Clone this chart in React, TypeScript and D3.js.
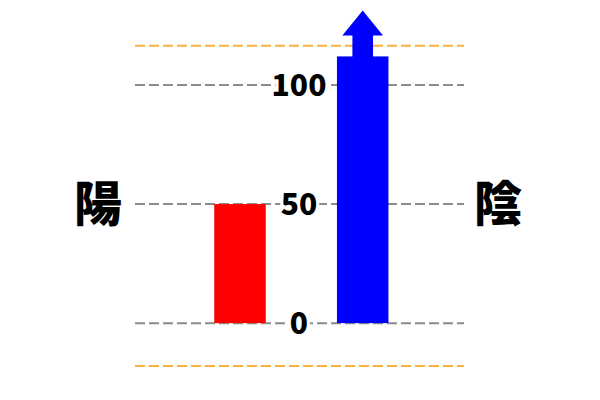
import { useEffect, useRef } from "react";
import * as d3 from "d3";

// data
const categories = ["陽", "陰"];
const values = [50, 112];
const barColors = ["#ff0000", "#0000ff"];
const overflow = [false, true];
const tickValues = [0, 50, 100];
const limitValues = [-18, 116.5];

export default function App() {
  const ref = useRef<SVGSVGElement>(null);

  useEffect(() => {
    if (!ref.current) return;
    const svg = d3.select(ref.current);
    svg.selectAll("*").remove();

    const W = 600;
    const H = 400;
    const left = 135;
    const right = 464;

    const y = d3.scaleLinear().domain(limitValues).range([366, 45.7]);
    const x = d3.scalePoint<string>().domain(categories).range([240, 362.7]);
    const bw = 51.5;

    const g = svg.append("g");

    // orange limit lines
    g.selectAll("line.limit")
      .data(limitValues)
      .join("line")
      .attr("class", "limit")
      .attr("x1", left)
      .attr("x2", right)
      .attr("y1", (d) => y(d))
      .attr("y2", (d) => y(d))
      .attr("stroke", "#fbb040")
      .attr("stroke-width", 2)
      .attr("stroke-dasharray", "10 4");

    // gray grid lines
    g.selectAll("line.grid")
      .data(tickValues)
      .join("line")
      .attr("class", "grid")
      .attr("x1", left)
      .attr("x2", right)
      .attr("y1", (d) => y(d))
      .attr("y2", (d) => y(d))
      .attr("stroke", "#8c8c8c")
      .attr("stroke-width", 2)
      .attr("stroke-dasharray", "10 4");

    // bars
    g.selectAll("rect.bar")
      .data(values)
      .join("rect")
      .attr("class", "bar")
      .attr("x", (_, i) => x(categories[i])! - bw / 2)
      .attr("width", bw)
      .attr("y", (d) => y(d))
      .attr("height", (d) => y(0) - y(d))
      .attr("fill", (_, i) => barColors[i]);

    // overflow arrows
    values.forEach((v, i) => {
      if (!overflow[i]) return;
      const cx = x(categories[i])!;
      const top = y(v);
      const shaftW = bw * 0.4;
      const headW = bw * 0.79;
      const shaftH = 21;
      const headH = 25;
      const p = d3.path();
      p.moveTo(cx - shaftW / 2, top + 0.5);
      p.lineTo(cx - shaftW / 2, top - shaftH);
      p.lineTo(cx - headW / 2, top - shaftH);
      p.lineTo(cx, top - shaftH - headH);
      p.lineTo(cx + headW / 2, top - shaftH);
      p.lineTo(cx + shaftW / 2, top - shaftH);
      p.lineTo(cx + shaftW / 2, top + 0.5);
      p.closePath();
      g.append("path").attr("d", p.toString()).attr("fill", barColors[i]);
    });

    // tick labels with white backing
    const labelX = 299;
    g.selectAll("text.tick")
      .data(tickValues)
      .join("text")
      .attr("class", "tick")
      .attr("x", labelX)
      .attr("y", (d) => y(d))
      .attr("dy", "0.36em")
      .attr("text-anchor", "middle")
      .attr("font-family", "'Noto Sans CJK JP', 'Noto Sans', sans-serif")
      .attr("font-weight", 900)
      .attr("font-size", 30)
      .attr("fill", "#000")
      .attr("stroke", "#fff")
      .attr("stroke-width", 6)
      .attr("paint-order", "stroke")
      .text((d) => String(d));

    // category labels
    const catX = [98, 498];
    g.selectAll("text.cat")
      .data(categories)
      .join("text")
      .attr("class", "cat")
      .attr("x", (_, i) => catX[i])
      .attr("y", y(50))
      .attr("dy", "0.36em")
      .attr("text-anchor", "middle")
      .attr("font-family", "'Noto Sans CJK JP', sans-serif")
      .attr("font-weight", 900)
      .attr("font-size", 48)
      .attr("fill", "#000")
      .text((d) => d);

    svg.attr("viewBox", `0 0 ${W} ${H}`);
  }, []);

  return (
    <svg
      ref={ref}
      width={600}
      height={400}
      style={{ position: "absolute", left: 0, top: 0, background: "#fff" }}
    />
  );
}
